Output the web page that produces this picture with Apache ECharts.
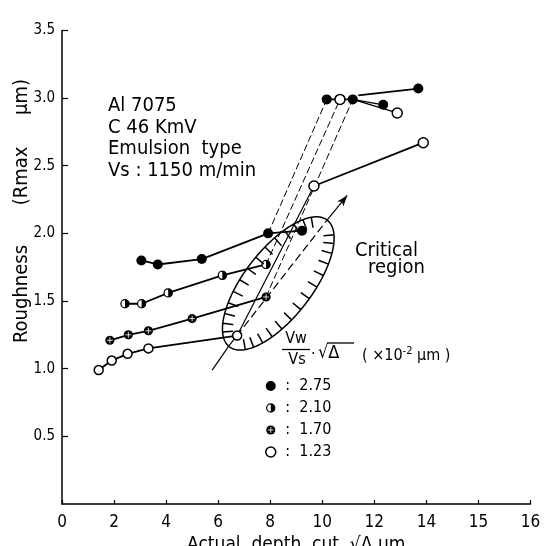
<!DOCTYPE html>
<html>
<head>
<meta charset="utf-8">
<script src="https://cdn.jsdelivr.net/npm/echarts@6/dist/echarts.min.js"></script>
<style>
  html, body { margin: 0; padding: 0; background: #fff; }
  #chart { width: 547px; height: 546px; }
</style>
</head>
<body>
<div id="chart"></div>
<script>
// measured points [depth, roughness], one array per Vw/Vs*sqrt(delta) value
const s275 = [[3.05, 1.80], [3.68, 1.77], [5.37, 1.81], [7.92, 2.00], [9.22, 2.02]];
const s210 = [[2.42, 1.48], [3.06, 1.48], [4.08, 1.56], [6.16, 1.69], [7.84, 1.77]];
const s170 = [[1.84, 1.21], [2.55, 1.25], [3.32, 1.28], [5.00, 1.37], [7.84, 1.53]];
const s123 = [[1.41, 0.99], [1.91, 1.06], [2.52, 1.11], [3.32, 1.15], [6.73, 1.245]];
const s123up = [[9.68, 2.35], [13.88, 2.67]];

// points up at 3.0 um
const topRow = [[10.17, 2.99], [10.68, 2.99], [11.17, 2.99]];
const topRowKind = ['f', 'o', 'f'];
const topA = [[11.17, 2.99], [12.34, 2.95]];
const topB = [[11.17, 2.99], [12.88, 2.89]];
const topC = [[11.38, 3.02], [13.69, 3.07]];

// thin jump lines across the critical region
const jump275 = [[7.92, 2.00], [10.17, 2.99]];
const jump210 = [[7.84, 1.77], [10.68, 2.99]];
const jump170 = [[7.84, 1.53], [11.17, 2.99]];
const jump123 = [[6.73, 1.245], [9.68, 2.35]];

// axis of the critical region (start, enters ellipse, leaves ellipse, arrow tip)
const regionAxis = [[5.77, 0.99], [6.42, 1.17], [10.19, 2.10], [10.96, 2.28]];
const regionCenter = [8.31, 1.63];

const legendNames = ['2.75', '2.10', '1.70', '1.23'];
const xTickLabels = ['0', '2', '4', '6', '8', '10', '12', '14', '15', '16'];
const yTickLabels = ['0', '0.5', '1.0', '1.5', '2.0', '2.5', '3.0', '3.5'];

const FONT = "'DejaVu Sans Condensed', 'DejaVu Sans', sans-serif";

function svgSym(body) {
  return 'image://data:image/svg+xml;charset=utf-8,' + encodeURIComponent(
    "<svg xmlns='http://www.w3.org/2000/svg' width='24' height='24' viewBox='0 0 24 24'>" + body + "</svg>");
}
const halfSym = svgSym("<circle cx='12' cy='12' r='9.8' fill='#fff' stroke='#000' stroke-width='3'/><path d='M12 2.2 A9.8 9.8 0 0 1 12 21.8 Z' fill='#000'/>");
const crossSym = svgSym("<circle cx='12' cy='12' r='11' fill='#000'/><path d='M12 5 V19 M5 12 H19' stroke='#fff' stroke-width='2'/>");

const fillStyle = { color: '#000' };
const openStyle = { color: '#fff', borderColor: '#000', borderWidth: 1.5 };

function line(data, extra) {
  return Object.assign({
    type: 'line', data: data, symbol: 'none', silent: true,
    lineStyle: { color: '#000', width: 1.8 }
  }, extra || {});
}
const dash = { color: '#000', width: 1, type: [7, 3] };
const thin = { color: '#000', width: 1.2 };

function kindItem(p, k) {
  if (k === 'none') return { value: p, symbol: 'none' };
  return { value: p, symbol: 'circle', symbolSize: 10, itemStyle: k === 'o' ? openStyle : fillStyle };
}

const chart = echarts.init(document.getElementById('chart'));

chart.setOption({
  animation: false,
  backgroundColor: '#fff',
  textStyle: { fontFamily: FONT, color: '#000' },
  grid: { left: 62, right: 16.5, top: 30.4, bottom: 42, outerBoundsMode: 'none' },
  legend: {
    orient: 'vertical', left: 260, top: 373,
    itemWidth: 10, itemHeight: 10, itemGap: 6,
    selectedMode: false,
    textStyle: { fontSize: 16, lineHeight: 16, color: '#000', fontFamily: FONT },
    formatter: n => ' :  ' + n,
    data: [
      { name: '2.75', icon: 'circle', itemStyle: fillStyle },
      { name: '2.10', icon: halfSym },
      { name: '1.70', icon: crossSym },
      { name: '1.23', icon: 'circle', itemStyle: openStyle }
    ]
  },
  xAxis: {
    type: 'value', min: 0, max: 18, interval: 2,
    axisLine: { show: true, onZero: false, lineStyle: { color: '#000', width: 1.5 } },
    axisTick: { show: true, inside: true, length: 4, lineStyle: { color: '#000', width: 1.2 } },
    axisLabel: { color: '#000', fontSize: 17, margin: 10, formatter: v => xTickLabels[Math.round(v / 2)] },
    splitLine: { show: false },
    name: 'Actual  depth  cut  √Δ μm', nameLocation: 'middle', nameGap: 26,
    nameTextStyle: { color: '#000', fontSize: 19, fontFamily: FONT }
  },
  yAxis: {
    type: 'value', min: 0, max: 3.5, interval: 0.5,
    axisLine: { show: true, onZero: false, lineStyle: { color: '#000', width: 1.5 } },
    axisTick: { show: true, inside: true, length: 6, lineStyle: { color: '#000', width: 1.2 } },
    axisLabel: { color: '#000', fontSize: 15, margin: 7, showMinLabel: false,
      formatter: v => yTickLabels[Math.round(v * 2)] },
    splitLine: { show: false }
  },
  series: [
    line(jump275, { lineStyle: dash }),
    line(jump210, { lineStyle: dash }),
    line(jump170, { lineStyle: dash }),
    line(jump123, { lineStyle: thin }),
    line(regionAxis.slice(0, 2), { lineStyle: thin }),
    line(regionAxis.slice(1, 3), {
      lineStyle: { color: '#000', width: 1.2, type: [8, 4] },
      markLine: {
        silent: true, animation: false, symbol: ['none', 'arrow'], symbolSize: [6, 11],
        label: { show: false }, lineStyle: { color: '#000', width: 1.2, type: 'solid' },
        data: [[{ coord: regionAxis[2] }, { coord: regionAxis[3] }]]
      }
    }),
    line(topA.map((p, i) => kindItem(p, i ? 'f' : 'none')), { lineStyle: { color: '#000', width: 1.4 } }),
    line(topB.map((p, i) => kindItem(p, i ? 'o' : 'none')), { lineStyle: { color: '#000', width: 1.4 } }),
    line(topC.map((p, i) => kindItem(p, i ? 'f' : 'none')), { lineStyle: { color: '#000', width: 1.7 } }),
    line(topRow.map((p, i) => kindItem(p, topRowKind[i])), { lineStyle: { color: '#000', width: 1.7 } }),
    line(s275, { name: '2.75', symbol: 'circle', symbolSize: 10, itemStyle: fillStyle }),
    line(s210, { name: '2.10', symbol: halfSym, symbolSize: 10, itemStyle: fillStyle }),
    line(s170, { name: '1.70', symbol: crossSym, symbolSize: 10, itemStyle: fillStyle }),
    line(s123, { name: '1.23', symbol: 'circle', symbolSize: 9, itemStyle: openStyle }),
    line(s123up, { symbol: 'circle', symbolSize: 10, itemStyle: openStyle })
  ]
});

// critical region: one outline path with short inward ticks, centred through the grid scale
const ra = 80, rb = 34, tilt = 52.3 * Math.PI / 180;
const c = chart.convertToPixel({ gridIndex: 0 }, regionCenter);
const ux = Math.cos(tilt), uy = -Math.sin(tilt);
const vx = Math.sin(tilt), vy = Math.cos(tilt);
const at = t => [
  c[0] + ra * Math.cos(t) * ux + rb * Math.sin(t) * vx,
  c[1] + ra * Math.cos(t) * uy + rb * Math.sin(t) * vy
];
const outline = [];
const steps = 360;
for (let i = 0; i < steps; i++) {
  const t = i / steps * 2 * Math.PI;
  const p = at(t);
  outline.push(p);
  const sn = Math.sin(t), co = Math.cos(t);
  if (i % 10 === 5 && Math.abs(sn) >= 0.3) {
    let nx = -(co / ra * ux + sn / rb * vx), ny = -(co / ra * uy + sn / rb * vy);
    const L = Math.hypot(nx, ny);
    outline.push([p[0] + nx / L * 10, p[1] + ny / L * 10], [p[0], p[1]]);
  }
}

function txt(x, y, text, size, extra) {
  return Object.assign({
    type: 'text', x: x, y: y, silent: true,
    style: Object.assign({ text: text, fontSize: size, fontFamily: FONT, fill: '#000',
      align: 'left', verticalAlign: 'middle' }, (extra && extra.style) || {})
  }, extra && extra.rotation !== undefined ? { rotation: extra.rotation } : {});
}

const notes = [
  { type: 'polygon', silent: true, z: 5, shape: { points: outline },
    style: { fill: 'none', stroke: '#000', lineWidth: 1.5, lineJoin: 'round' } },
  { type: 'text', x: 108, y: 95, silent: true,
    style: { text: 'Al 7075\nC 46 KmV\nEmulsion  type\nVs : 1150 m/min', fontSize: 20,
      lineHeight: 21.7, fontFamily: FONT, fill: '#000', align: 'left', verticalAlign: 'top' } },
  txt(355, 251, 'Critical', 20),
  txt(368, 268, 'region', 20),
  // y axis title
  txt(22, 294, 'Roughness', 20, { rotation: Math.PI / 2, style: { align: 'center' } }),
  txt(22, 176, '(Rmax', 20, { rotation: Math.PI / 2, style: { align: 'center' } }),
  txt(22, 97, 'μm)', 20, { rotation: Math.PI / 2, style: { align: 'center' } }),
  // legend heading: Vw/Vs . sqrt(delta) ( x10^-2 um )
  txt(296, 339, 'Vw', 16, { style: { align: 'center' } }),
  { type: 'polyline', silent: true, shape: { points: [[282, 349.5], [310, 349.5]] },
    style: { fill: 'none', stroke: '#000', lineWidth: 1.3 } },
  txt(297, 360, 'Vs', 16, { style: { align: 'center' } }),
  txt(311, 355, '·', 16),
  txt(318, 353, '√Δ', 18),
  { type: 'polyline', silent: true, shape: { points: [[327, 343], [354, 343]] },
    style: { fill: 'none', stroke: '#000', lineWidth: 1.3 } },
  { type: 'text', x: 362, y: 356, silent: true,
    style: { text: '( ×10{s|-2} μm )', fontSize: 16, fontFamily: FONT, fill: '#000',
      align: 'left', verticalAlign: 'middle', lineHeight: 20,
      rich: { s: { fontSize: 11, fontFamily: FONT, verticalAlign: 'top', lineHeight: 20 } } } }
];

chart.setOption({ graphic: { elements: notes } });
</script>
</body>
</html>
